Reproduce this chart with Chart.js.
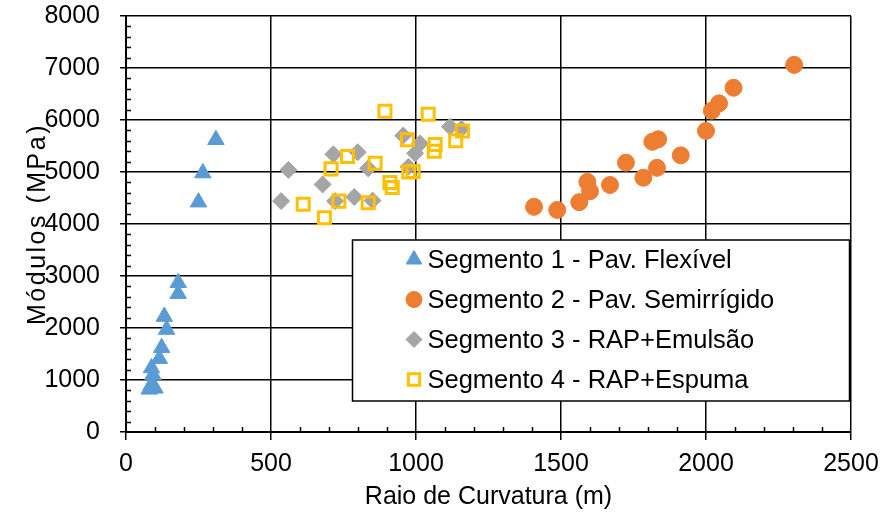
<!DOCTYPE html>
<html>
<head>
<meta charset="utf-8">
<script src="https://cdn.jsdelivr.net/npm/chart.js@4.4.1/dist/chart.umd.min.js"></script>
<style>
  html, body { margin: 0; padding: 0; background: #fff; }
  #wrap { width: 887px; height: 516px; }
</style>
</head>
<body>
<div id="wrap"><canvas id="c" width="887" height="516"></canvas></div>
<script>
// Series names
const seriesNames = [
  'Segmento 1 - Pav. Flexível',
  'Segmento 2 - Pav. Semirrígido',
  'Segmento 3 - RAP+Emulsão',
  'Segmento 4 - RAP+Espuma'
];

// Raio de curvatura (m) and módulo (MPa) for each segment
const seg1Raio   = [310, 265, 250, 180, 180, 132, 140, 123, 115, 88, 93, 87, 100, 80];
const seg1Modulo = [5620, 4980, 4420, 2870, 2660, 2220, 1970, 1620, 1410, 1230, 1100, 900, 840, 820];

const seg2Raio   = [1407, 1487, 1563, 1591, 1600, 1669, 1724, 1784, 1831, 1815, 1835, 1913, 2000, 2020, 2045, 2095, 2304];
const seg2Modulo = [4330, 4270, 4420, 4810, 4630, 4750, 5180, 4890, 5080, 5580, 5630, 5320, 5790, 6180, 6320, 6620, 7060];

const seg3Raio   = [535, 560, 678, 715, 721, 787, 799, 835, 850, 974, 956, 1014, 997, 1117, 1157];
const seg3Modulo = [4440, 5040, 4760, 5340, 4440, 4520, 5380, 5070, 4450, 5100, 5700, 5550, 5360, 5870, 5830];

const seg4Raio   = [611, 684, 707, 734, 764, 835, 859, 893, 910, 918, 970, 975, 990, 1042, 1063, 1066, 1137, 1160];
const seg4Modulo = [4380, 4120, 5060, 4440, 5300, 4410, 5170, 6170, 4800, 4700, 5620, 5000, 5010, 6110, 5400, 5530, 5600, 5790];

// Axis tick labels and titles
const xTickValues = [0, 500, 1000, 1500, 2000, 2500];
const yTickValues = [0, 1000, 2000, 3000, 4000, 5000, 6000, 7000, 8000];
const xTitle = 'Raio de Curvatura (m)';
const yTitle = 'Módulos (MPa)';

const FONT = '"Liberation Sans", Arial, Helvetica, sans-serif';

function toPoints(xs, ys) {
  return xs.map((x, i) => ({ x: x, y: ys[i] }));
}

// Minor tick marks drawn inward from both axes
const minorTicks = {
  id: 'minorTicks',
  beforeDatasetsDraw(chart) {
    const { ctx } = chart;
    const xs = chart.scales.x, ys = chart.scales.y;
    ctx.save();
    ctx.strokeStyle = '#000';
    ctx.lineWidth = 1.5;
    ctx.beginPath();
    for (let v = xs.min; v <= xs.max; v += 100) {
      if (v % 500 === 0) continue;
      const px = Math.round(xs.getPixelForValue(v)) + 0.5;
      ctx.moveTo(px, ys.bottom);
      ctx.lineTo(px, ys.bottom - 5);
    }
    for (let v = ys.min; v <= ys.max; v += 200) {
      if (v % 1000 === 0) continue;
      const py = Math.round(ys.getPixelForValue(v)) + 0.5;
      ctx.moveTo(xs.left, py);
      ctx.lineTo(xs.left + 5, py);
    }
    ctx.stroke();
    ctx.restore();
  }
};

// Rotated y-axis title with wider letter spacing
const yAxisTitle = {
  id: 'yAxisTitle',
  afterDraw(chart) {
    const { ctx } = chart;
    const ys = chart.scales.y;
    ctx.save();
    ctx.translate(38, (ys.top + ys.bottom) / 2);
    ctx.rotate(-Math.PI / 2);
    ctx.font = '25px ' + FONT;
    ctx.fillStyle = '#000';
    ctx.textAlign = 'center';
    ctx.textBaseline = 'middle';
    if ('letterSpacing' in ctx) ctx.letterSpacing = '2.5px';
    ctx.fillText(yTitle, 0, 0);
    ctx.restore();
  }
};

// Boxed legend placed inside the plot area
const insetLegend = {
  id: 'insetLegend',
  beforeDatasetsDraw(chart, args, opts) {
    const { ctx } = chart;
    const { left, top, width, height, firstRow, rowGap, markerX, textX } = opts;
    ctx.save();
    ctx.fillStyle = '#fff';
    ctx.fillRect(left, top, width, height);
    ctx.strokeStyle = '#000';
    ctx.lineWidth = 1.5;
    ctx.strokeRect(left, top, width, height);
    chart.data.datasets.forEach((ds, i) => {
      const y = top + firstRow + i * rowGap;
      ctx.fillStyle = ds.backgroundColor;
      ctx.strokeStyle = ds.borderColor;
      ctx.lineWidth = ds.borderWidth;
      Chart.helpers.drawPoint(ctx, {
        pointStyle: ds.pointStyle,
        radius: ds.legendRadius,
        borderWidth: ds.borderWidth,
        rotation: 0
      }, left + markerX, y);
      ctx.fillStyle = '#000';
      ctx.font = '25.5px ' + FONT;
      ctx.textAlign = 'left';
      ctx.textBaseline = 'middle';
      ctx.fillText(ds.label, left + textX, y + 1);
    });
    ctx.restore();
  }
};

const plainLabel = (value) => String(value);

const chart = new Chart(document.getElementById('c'), {
  type: 'scatter',
  data: {
    datasets: [
      {
        label: seriesNames[0],
        data: toPoints(seg1Raio, seg1Modulo),
        pointStyle: 'triangle',
        pointRadius: 9.5,
        legendRadius: 9,
        backgroundColor: '#5B9BD5',
        borderColor: '#5B9BD5',
        borderWidth: 1,
        order: 4
      },
      {
        label: seriesNames[1],
        data: toPoints(seg2Raio, seg2Modulo),
        pointStyle: 'circle',
        pointRadius: 8.5,
        legendRadius: 8,
        backgroundColor: '#ED7D31',
        borderColor: '#ED7D31',
        borderWidth: 1,
        order: 3
      },
      {
        label: seriesNames[2],
        data: toPoints(seg3Raio, seg3Modulo),
        pointStyle: 'rectRot',
        pointRadius: 8.5,
        legendRadius: 8,
        backgroundColor: '#A5A5A5',
        borderColor: '#A5A5A5',
        borderWidth: 1,
        order: 2
      },
      {
        label: seriesNames[3],
        data: toPoints(seg4Raio, seg4Modulo),
        pointStyle: 'rect',
        pointRadius: 8.5,
        legendRadius: 8,
        backgroundColor: 'rgba(255,255,255,0)',
        borderColor: '#FFC000',
        borderWidth: 3,
        order: 1
      }
    ]
  },
  options: {
    responsive: false,
    animation: false,
    events: [],
    layout: { padding: { top: 16, right: 36, left: 0, bottom: 0 } },
    plugins: {
      legend: { display: false },
      tooltip: { enabled: false },
      insetLegend: {
        left: 352.5, top: 240, width: 497, height: 161,
        firstRow: 19.5, rowGap: 40, markerX: 61.5, textX: 75
      }
    },
    scales: {
      x: {
        type: 'linear',
        min: 0, max: 2500,
        afterFit(scale) {
          scale.height = 84;
          scale.paddingLeft = 0;
          scale.paddingRight = 0;
        },
        afterBuildTicks(scale) { scale.ticks = xTickValues.map(v => ({ value: v })); },
        ticks: {
          color: '#000',
          font: { family: FONT, size: 25 },
          padding: 9,
          maxRotation: 0,
          autoSkip: false,
          callback: plainLabel
        },
        grid: { color: '#000', lineWidth: 1.5, tickLength: 8, drawTicks: true },
        border: { color: '#000', width: 2 },
        title: {
          display: true,
          text: xTitle,
          color: '#000',
          font: { family: FONT, size: 25 },
          padding: { top: 0, bottom: 4 }
        }
      },
      y: {
        type: 'linear',
        min: 0, max: 8000,
        afterFit(scale) {
          scale.width = 126;
          scale.paddingTop = 0;
          scale.paddingBottom = 0;
        },
        afterBuildTicks(scale) { scale.ticks = yTickValues.map(v => ({ value: v })); },
        ticks: {
          color: '#000',
          font: { family: FONT, size: 25 },
          padding: 20,
          autoSkip: false,
          callback: plainLabel
        },
        grid: { color: '#000', lineWidth: 1.5, tickLength: 6, drawTicks: true },
        border: { color: '#000', width: 2 },
        title: { display: false }
      }
    }
  },
  plugins: [minorTicks, insetLegend, yAxisTitle]
});
</script>
</body>
</html>
